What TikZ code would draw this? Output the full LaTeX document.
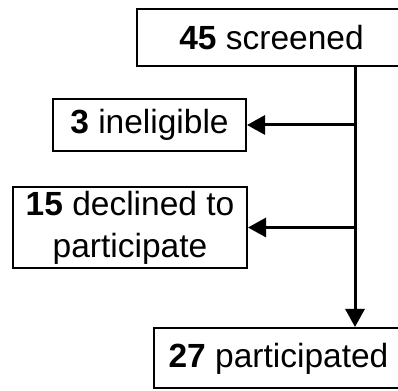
\documentclass[tikz,border=0pt]{standalone}
\usepackage{fontspec}
\setmainfont{Liberation Sans}
\usetikzlibrary{arrows.meta}
\begin{document}
\begin{tikzpicture}[x=1pt,y=1pt,
  lbl/.style={font=\fontsize{33.5}{38}\selectfont},
  box/.style={draw,line width=2pt,inner sep=0pt,align=center,lbl},
  arr/.style={line width=3pt,-{Triangle[length=18pt,width=19pt]}},
  spine/.style={line width=3pt}]
\useasboundingbox (0,0) rectangle (398,390);
\clip (0,0) rectangle (398,390);
\fill[white] (0,0) rectangle (398,390);
\node[box,minimum width=263pt,minimum height=57pt] (top) at (268.5,352.5) {};
\node[lbl] (toptxt) at (271.5,352) {\textbf{45} screened};
\node[box,minimum width=193pt,minimum height=52pt] (inel) at (149.5,265) {\textbf{3} ineligible};
\node[box,minimum width=234pt,minimum height=81pt] (decl) at (130,162.5) {\textbf{15} declined to\\[4pt]participate};
\node[box,minimum width=247pt,minimum height=60pt] (part) at (277.5,32) {};
\node[lbl] (parttxt) at (278.5,31) {\textbf{27} participated};
\coordinate (sp) at (355,0);
\draw[spine] (top.south -| sp) -- (inel.east -| sp);
\draw[spine] (inel.east -| sp) -- (decl.east -| sp);
\draw[arr] (decl.east -| sp) -- (part.north -| sp);
\draw[arr] (inel.east -| sp) -- (inel.east);
\draw[arr] (decl.east -| sp) -- (decl.east);
\end{tikzpicture}
\end{document}
